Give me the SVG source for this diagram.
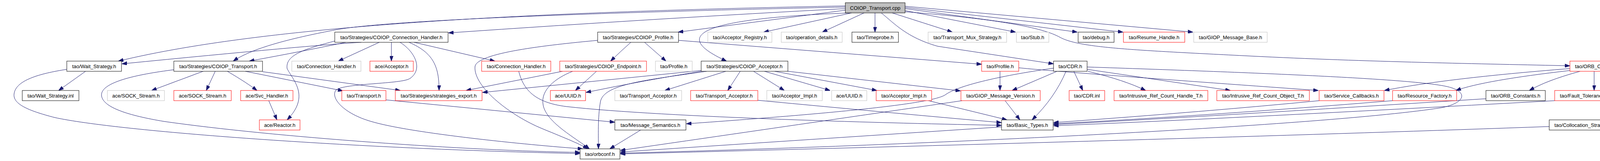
<svg xmlns="http://www.w3.org/2000/svg" width="4757" height="411" viewBox="0 0 4757 411">
<style>
rect{fill:#fff;stroke:#000;stroke-width:1}
.r rect{stroke:#f00}
.g rect{stroke:#bfbfbf}
.m rect{fill:#bfbfbf}
text{font-family:"Liberation Sans",Arial,Helvetica,sans-serif;font-size:13px;text-anchor:middle;fill:#000}
#edges path{fill:none;stroke:#191970;stroke-width:1;marker-end:url(#a)}
</style>
<defs>
<marker id="a" markerUnits="userSpaceOnUse" markerWidth="13" markerHeight="9" refX="13" refY="4.5" orient="auto">
<path d="M0,0 L13,4.5 L0,9 z" fill="#191970" stroke="#191970"/>
</marker>
</defs>
<rect x="0" y="0" width="4757" height="411" style="fill:#fff;stroke:none"/>
<g id="edges">
<path d="M2164,15 C1400,30 700,60 303,156"/>
<path d="M2164,18 C1600,30 1000,50 860,76 C760,95 650,120 597,156"/>
<path d="M2164,22 Q1700,46 1148,84"/>
<path d="M2164,26 L1736,82"/>
<path d="M2176,33 C1700,50 1760,110 1860,156"/>
<path d="M2180,33 L1955,82"/>
<path d="M2212,33 L2105,82"/>
<path d="M2240,33 L2240,82"/>
<path d="M2256,33 C2290,60 2320,95 2400,118 L2697,163"/>
<path d="M2284,33 L2438,82"/>
<path d="M2317,27 L2600,82"/>
<path d="M2317,22 L2758,82"/>
<path d="M2317,19 L2875,82"/>
<path d="M2317,16 L3054,82"/>
<path d="M2317,30 C2550,48 2670,70 2715,96 C2765,122 2900,128 3200,143 S3800,163 4019,168"/>
<path d="M925,108 Q800,115 312,163"/>
<path d="M885,108 Q780,130 638,156"/>
<path d="M860,104 C780,125 730,140 735,175 C750,205 795,245 735,306"/>
<path d="M971,108 L866,156"/>
<path d="M1002,108 L1002,156"/>
<path d="M1024,108 C1060,130 1085,175 1050,200 C1030,215 880,212 860,230 C845,250 880,290 950,310 C1050,340 1350,370 1492,380"/>
<path d="M1047,108 C1110,135 1124,170 1124,231"/>
<path d="M1060,108 L1267,156"/>
<path d="M520,182 L388,231"/>
<path d="M551,182 L528,231"/>
<path d="M582,182 Q630,210 658,231"/>
<path d="M628,182 L878,232"/>
<path d="M672,183 L1025,231"/>
<path d="M445,178 C350,190 255,210 260,245 C265,275 330,295 420,310 C700,350 1200,385 1485,389"/>
<path d="M219,182 L150,231"/>
<path d="M171,177 C100,188 40,205 36,240 C33,265 70,282 140,300 C300,335 900,380 1485,392"/>
<path d="M688,257 L709,306"/>
<path d="M1530,103 C1400,115 1220,135 1216,170 C1212,220 1300,290 1380,325 C1440,350 1480,365 1505,380"/>
<path d="M1615,108 Q1590,130 1563,156"/>
<path d="M1650,108 L1705,156"/>
<path d="M1737,103 L2513,164"/>
<path d="M1466,182 C1420,200 1385,230 1390,265 C1395,310 1470,350 1509,380"/>
<path d="M1440,182 L1193,231"/>
<path d="M1527,182 L1473,231"/>
<path d="M1795,180 L1235,236"/>
<path d="M1795,182 Q1650,205 1500,236"/>
<path d="M1809,182 C1650,205 1545,215 1537,260 C1530,300 1532,350 1532,380"/>
<path d="M1858,182 L1702,231"/>
<path d="M1895,182 L1863,231"/>
<path d="M1929,182 L2008,231"/>
<path d="M1957,182 L2125,231"/>
<path d="M1983,182 L2245,231"/>
<path d="M2017,182 L2459,232"/>
<path d="M988,255 L1574,312"/>
<path d="M1328,182 C1340,230 1370,262 1450,272 C1700,300 2300,315 2564,320"/>
<path d="M1940,256 Q2300,290 2564,313"/>
<path d="M2377,257 L2578,306"/>
<path d="M1640,332 L1561,380"/>
<path d="M2564,324 L1588,388"/>
<path d="M2573,257 L2611,306"/>
<path d="M2463,257 Q2300,281 1588,384"/>
<path d="M2697,174 C2550,195 2450,220 2420,242 C2390,262 2200,285 1757,316"/>
<path d="M2706,182 L2591,231"/>
<path d="M2729,182 Q2700,250 2642,306"/>
<path d="M2749,182 L2772,231"/>
<path d="M2785,182 Q2880,205 2933,231"/>
<path d="M2783,177 L3150,231"/>
<path d="M2783,171 C3200,185 3600,200 3700,220 C3760,232 3755,262 3690,275 C3400,320 2400,370 1588,391"/>
<path d="M2560,182 L2560,231"/>
<path d="M2608,173 Q2700,183 3375,231"/>
<path d="M3377,257 Q3100,284 2697,313"/>
<path d="M3565,257 Q3100,295 2697,316"/>
<path d="M3804,252 Q3100,297 2697,318"/>
<path d="M3980,257 Q3100,305 2697,321"/>
<path d="M3966,323 Q3100,354 1588,393"/>
<path d="M4019,175 Q3700,200 3544,231"/>
<path d="M4019,180 Q3800,205 3727,231"/>
<path d="M4045,182 Q3960,205 3915,231"/>
<path d="M4081,182 L4081,231"/>
<path d="M4123,182 C4205,200 4230,255 4130,306"/>
<path d="M4123,182 Q4210,205 4263,231"/>
<path d="M4141,181 L4391,231"/>
<path d="M4141,176 L4557,231"/>
</g>
<g id="n0" class="m"><rect x="2164" y="7" width="153" height="26"/><text x="2240.5" y="25">COIOP_Transport.cpp</text></g>
<g id="n1"><rect x="857" y="82" width="290" height="26"/><text x="1002" y="100">tao/Strategies/COIOP_Connection_Handler.h</text></g>
<g id="n2"><rect x="1530" y="82" width="207" height="26"/><text x="1633.5" y="100">tao/Strategies/COIOP_Profile.h</text></g>
<g id="n3" class="g"><rect x="1812" y="82" width="164" height="26"/><text x="1894" y="100">tao/Acceptor_Registry.h</text></g>
<g id="n4" class="g"><rect x="2000" y="82" width="156" height="26"/><text x="2078" y="100">tao/operation_details.h</text></g>
<g id="n5"><rect x="2181" y="82" width="119" height="26"/><text x="2240.5" y="100">tao/Timeprobe.h</text></g>
<g id="n6" class="g"><rect x="2376" y="82" width="201" height="26"/><text x="2476.5" y="100">tao/Transport_Mux_Strategy.h</text></g>
<g id="n7" class="g"><rect x="2602" y="82" width="83" height="26"/><text x="2643.5" y="100">tao/Stub.h</text></g>
<g id="n8"><rect x="2760" y="82" width="92" height="26"/><text x="2806" y="100">tao/debug.h</text></g>
<g id="n9" class="r"><rect x="2876" y="82" width="157" height="26"/><text x="2954.5" y="100">tao/Resume_Handle.h</text></g>
<g id="n10" class="g"><rect x="3056" y="82" width="188" height="26"/><text x="3150" y="100">tao/GIOP_Message_Base.h</text></g>
<g id="n11"><rect x="171" y="156" width="140" height="26"/><text x="241" y="174">tao/Wait_Strategy.h</text></g>
<g id="n12"><rect x="445" y="156" width="227" height="26"/><text x="558.5" y="174">tao/Strategies/COIOP_Transport.h</text></g>
<g id="n13" class="g"><rect x="747" y="156" width="177" height="26"/><text x="835.5" y="174">tao/Connection_Handler.h</text></g>
<g id="n14" class="r"><rect x="947" y="156" width="111" height="26"/><text x="1002.5" y="174">ace/Acceptor.h</text></g>
<g id="n15" class="r"><rect x="1233" y="156" width="177" height="26"/><text x="1321.5" y="174">tao/Connection_Handler.h</text></g>
<g id="n16" class="r"><rect x="1433" y="156" width="222" height="26"/><text x="1544" y="174">tao/Strategies/COIOP_Endpoint.h</text></g>
<g id="n17" class="g"><rect x="1678" y="156" width="94" height="26"/><text x="1725" y="174">tao/Profile.h</text></g>
<g id="n18"><rect x="1795" y="156" width="222" height="26"/><text x="1906" y="174">tao/Strategies/COIOP_Acceptor.h</text></g>
<g id="n19" class="r"><rect x="2513" y="156" width="95" height="26"/><text x="2560.5" y="174">tao/Profile.h</text></g>
<g id="n20"><rect x="2697" y="156" width="86" height="26"/><text x="2740" y="174">tao/CDR.h</text></g>
<g id="n21" class="r"><rect x="4019" y="156" width="122" height="26"/><text x="4080" y="174">tao/ORB_Core.h</text></g>
<g id="n22"><rect x="57" y="231" width="145" height="26"/><text x="129.5" y="249">tao/Wait_Strategy.inl</text></g>
<g id="n23" class="g"><rect x="275" y="231" width="146" height="26"/><text x="348" y="249">ace/SOCK_Stream.h</text></g>
<g id="n24" class="r"><rect x="445" y="231" width="147" height="26"/><text x="518.5" y="249">ace/SOCK_Stream.h</text></g>
<g id="n25" class="r"><rect x="616" y="231" width="134" height="26"/><text x="683" y="249">ace/Svc_Handler.h</text></g>
<g id="n26" class="r"><rect x="875" y="231" width="113" height="26"/><text x="931.5" y="249">tao/Transport.h</text></g>
<g id="n27" class="r"><rect x="1012" y="231" width="222" height="26"/><text x="1123" y="249">tao/Strategies/strategies_export.h</text></g>
<g id="n28" class="r"><rect x="1409" y="231" width="90" height="26"/><text x="1454" y="249">ace/UUID.h</text></g>
<g id="n29" class="g"><rect x="1574" y="231" width="171" height="26"/><text x="1659.5" y="249">tao/Transport_Acceptor.h</text></g>
<g id="n30" class="r"><rect x="1768" y="231" width="172" height="26"/><text x="1854" y="249">tao/Transport_Acceptor.h</text></g>
<g id="n31" class="g"><rect x="1963" y="231" width="142" height="26"/><text x="2034" y="249">tao/Acceptor_Impl.h</text></g>
<g id="n32" class="g"><rect x="2129" y="231" width="90" height="26"/><text x="2174" y="249">ace/UUID.h</text></g>
<g id="n33" class="r"><rect x="2243" y="231" width="142" height="26"/><text x="2314" y="249">tao/Acceptor_Impl.h</text></g>
<g id="n34" class="r"><rect x="2460" y="231" width="203" height="26"/><text x="2561.5" y="249">tao/GIOP_Message_Version.h</text></g>
<g id="n35" class="r"><rect x="2737" y="231" width="91" height="26"/><text x="2782.5" y="249">tao/CDR.inl</text></g>
<g id="n36" class="r"><rect x="2852" y="231" width="240" height="26"/><text x="2972" y="249">tao/Intrusive_Ref_Count_Handle_T.h</text></g>
<g id="n37" class="r"><rect x="3115" y="231" width="237" height="26"/><text x="3233.5" y="249">tao/Intrusive_Ref_Count_Object_T.h</text></g>
<g id="n38" class="r"><rect x="3377" y="231" width="166" height="26"/><text x="3460" y="249">tao/Service_Callbacks.h</text></g>
<g id="n39" class="r"><rect x="3565" y="231" width="164" height="26"/><text x="3647" y="249">tao/Resource_Factory.h</text></g>
<g id="n40"><rect x="3804" y="231" width="152" height="26"/><text x="3880" y="249">tao/ORB_Constants.h</text></g>
<g id="n41" class="r"><rect x="3980" y="231" width="202" height="26"/><text x="4081" y="249">tao/Fault_Tolerance_Service.h</text></g>
<g id="n42" class="r"><rect x="4256" y="231" width="101" height="26"/><text x="4306.5" y="249">tao/params.h</text></g>
<g id="n43" class="r"><rect x="4381" y="231" width="151" height="26"/><text x="4456.5" y="249">tao/Parser_Registry.h</text></g>
<g id="n44" class="r"><rect x="4556" y="231" width="196" height="26"/><text x="4654" y="249">tao/Cleanup_Func_Registry.h</text></g>
<g id="n45" class="r"><rect x="664" y="306" width="104" height="26"/><text x="716" y="324">ace/Reactor.h</text></g>
<g id="n46"><rect x="1574" y="306" width="182" height="26"/><text x="1665" y="324">tao/Message_Semantics.h</text></g>
<g id="n47"><rect x="2564" y="306" width="132" height="26"/><text x="2630" y="324">tao/Basic_Types.h</text></g>
<g id="n48"><rect x="3966" y="306" width="178" height="26"/><text x="4055" y="324">tao/Collocation_Strategy.h</text></g>
<g id="n49"><rect x="1485" y="380" width="102" height="26"/><text x="1536" y="398">tao/orbconf.h</text></g>
</svg>
